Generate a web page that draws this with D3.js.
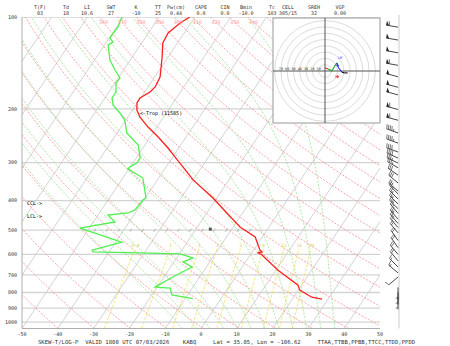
<!DOCTYPE html>
<html>
<head>
<meta charset="utf-8">
<script src="https://cdn.jsdelivr.net/npm/d3@7"></script>
<style>
  body { margin: 0; background: #fff; }
  text { font-family: "DejaVu Sans Mono", monospace; }
</style>
</head>
<body>
<div id="chart"></div>
<script>
// skew-T / log-P sounding, KABQ
const svgW = 450, svgH = 346;
const box = { left: 22, right: 380, top: 17, bottom: 328.5 };
const skew = 0.67; // px sideways per px up

// temperature profile (hPa, C)
const tempPres = [100, 104.6, 112.8, 121.7, 136.3, 157.3, 169.6, 176.2, 184.2, 191.3, 201.8, 212.8, 229.5, 247.5, 268.8, 287.6, 310, 342, 392, 439, 488, 526, 581, 589, 594, 603, 676, 757, 786, 829, 841];
const tempVals = [-61.4, -63.0, -64.5, -64.1, -61.5, -58.5, -58.0, -58.5, -60.2, -60.1, -58.8, -56.6, -52.5, -47.8, -43.0, -39.4, -35.3, -30.0, -21.1, -14.4, -8.1, -2.0, 1.8, 2.7, 1.8, 3.3, 10.6, 19.0, 20.4, 25.1, 28.3];

// dewpoint profile (hPa, C)
const dwptPres = [100, 107.8, 114.6, 117.2, 120.8, 123.5, 138.3, 149.2, 158.5, 164.6, 176.2, 184.2, 194.3, 206.4, 217.7, 240.1, 262.7, 289.8, 301, 310, 314.6, 337.2, 392, 398, 429, 439, 446, 470, 492, 547, 581, 589, 594, 598, 617, 635, 660, 712, 768, 774, 815, 838];
const dwptVals = [-80.4, -79.6, -79.8, -79.8, -78.2, -79.0, -75.7, -72.4, -69.5, -69.7, -68.0, -68.0, -66.4, -63.0, -60.3, -57.3, -51.9, -48.9, -48.9, -50.1, -50.3, -44.4, -39.8, -40.3, -40.6, -42.0, -47.2, -44.0, -52.6, -38.3, -45.1, -44.5, -28.4, -19.8, -15.4, -17.5, -14.0, -17.5, -20.6, -16.2, -14.4, -7.9];

// wind barbs (hPa, direction deg, speed kt)
const windPres = [108, 119, 131, 144, 157, 170, 180, 201, 218, 240, 259, 277, 290, 301, 312, 330, 350, 372, 380, 395, 410, 425, 440, 460, 475, 490, 510, 540, 570, 600, 630, 660, 690, 712, 770, 800, 830];
const windDir = [280, 280, 280, 280, 285, 285, 285, 285, 285, 290, 290, 290, 295, 295, 300, 305, 310, 310, 315, 315, 315, 315, 320, 320, 320, 320, 320, 325, 325, 320, 320, 315, 310, 230, 180, 180, 180];
const windSpd = [60, 50, 50, 60, 50, 50, 50, 60, 60, 45, 45, 40, 40, 35, 35, 30, 30, 25, 25, 25, 25, 25, 25, 25, 20, 20, 20, 20, 20, 20, 20, 15, 15, 10, 5, 5, 5];

// hodograph trace (u, v in kt), coloured by layer
const hodoU = [0, 5, 11, 15, 19, 21, 24, 27, 31, 36];
const hodoV = [5, 3, 0, 7, 13, 6, 2, -2, -3, -3];
const hodoLayer = [0, 0, 1, 1, 1, 2, 2, 2, 3, 3];
const hodoColors = ["#ff2020", "#20a020", "#2020ff", "#111"];

// storm-motion marks (u, v in kt)
const stormU = [20, 20];
const stormV = [9, -9];

// background line sets
const isobars = [100, 200, 300, 400, 500, 600, 700, 800, 900, 1000];
const isotherms = d3.range(-150, 60, 10);
const thetaLines = d3.range(220, 530, 10);
const thetaLabels = [360, 370, 380, 390, 400, 410, 420, 430, 440];
const moistStarts = [-8, -4, 0, 4, 8, 12, 16, 20, 24, 28, 32, 36];
const mixRatios = [0.4, 1, 2, 3, 5, 8, 12, 16, 20];
const tempTicks = [-50, -40, -30, -20, -10, 0, 10, 20, 30, 40, 50];
const tickTemps500 = d3.range(-48, -4, 10 / 3);

const headNames = ["T(F)", "Td", "LI", "SWT", "K", "TT", "Pw(cm)", "CAPE", "CIN", "Bmin", "Tc", "CELL", "SREH", "VGP"];
const headVals = ["83", "18", "10.6", "27", "-10", "25", "0.44", "0.0", "0.0", "-10.0", "103", "305/15", "32", "0.00"];
const headX = [40, 66, 87, 111, 136, 158, 176, 201, 225, 246, 272, 288, 314, 340];

const y = d3.scaleLog().domain([100, 1050]).range([box.top, box.bottom]);
const x = d3.scaleLinear().domain([-50, 50]).range([box.left, box.right]);
const sx = (t, p) => x(t) + skew * (box.bottom - y(p));

const svg = d3.select("#chart").append("svg")
    .attr("width", svgW).attr("height", svgH);

svg.append("defs").append("clipPath").attr("id", "plotClip")
  .append("rect")
    .attr("x", box.left).attr("y", box.top)
    .attr("width", box.right - box.left).attr("height", box.bottom - box.top);

const plot = svg.append("g").attr("clip-path", "url(#plotClip)");
const line = d3.line().x(d => sx(d[1], d[0])).y(d => y(d[0]));

// thermo helpers
const es = t => 6.112 * Math.exp(17.67 * t / (t + 243.5));
const mixT = (w, p) => { const e = w / 1000 * p / (0.622 + w / 1000); const l = Math.log(e / 6.112); return 243.5 * l / (17.67 - l); };
function moistLapse(t, p) {
    const tk = t + 273.15, e = es(t), rs = 0.622 * e / (p - e);
    const Lv = 2.501e6, Rd = 287.04, cp = 1005.7;
    return ((Rd * tk + Lv * rs) / p) / (cp + Lv * Lv * rs * 0.622 / (Rd * tk * tk));
}
function moistPath(t0) {
    const pts = [];
    let t = t0;
    for (let p = 1000; p <= 1050; p += 5) { pts.push([p, t]); t += moistLapse(t, p) * 5; }
    pts.reverse();
    t = t0;
    for (let p = 1000; p >= 100; p -= 5) { if (p < 1000) pts.push([p, t]); t -= moistLapse(t, p) * 5; }
    return pts;
}

// isobars
plot.selectAll(".isobar").data(isobars).enter().append("line")
    .attr("x1", box.left).attr("x2", box.right)
    .attr("y1", d => y(d)).attr("y2", d => y(d))
    .attr("stroke", "#d4d4d4").attr("stroke-width", 1.3);

// isotherms
plot.selectAll(".isotherm").data(isotherms).enter().append("path")
    .attr("d", d => line([[1050, d], [100, d]]))
    .attr("fill", "none").attr("stroke", "#c8c8c8").attr("stroke-width", 0.8);

// dry adiabats
plot.selectAll(".dry").data(thetaLines).enter().append("path")
    .attr("d", th => line(d3.range(1050, 95, -10).map(p => [p, th * Math.pow(p / 1000, 0.2857) - 273.15])))
    .attr("fill", "none").attr("stroke", "#ff8c8c").attr("stroke-width", 0.8)
    .attr("stroke-dasharray", "2,1.5");

// moist adiabats
plot.selectAll(".moist").data(moistStarts).enter().append("path")
    .attr("d", t0 => line(moistPath(t0)))
    .attr("fill", "none").attr("stroke", "#9be08c").attr("stroke-width", 0.8)
    .attr("stroke-dasharray", "2,1.5");

// mixing ratio lines
plot.selectAll(".mix").data(mixRatios).enter().append("path")
    .attr("d", w => line([1050, 900, 800, 700, 600, 575].map(p => [p, mixT(w, p)])))
    .attr("fill", "none").attr("stroke", "#f0e060").attr("stroke-width", 0.8)
    .attr("stroke-dasharray", "3,1.5");

plot.selectAll(".mixlab").data(mixRatios).enter().append("text")
    .attr("x", w => sx(mixT(w, 570), 570)).attr("y", y(570) - 1)
    .attr("text-anchor", "middle").attr("font-size", 4.5).attr("fill", "#e0d040")
    .text(d => d);

// theta labels
svg.selectAll(".thlab").data(thetaLabels).enter().append("text")
    .attr("x", th => sx(th * Math.pow(104 / 1000, 0.2857) - 273.15, 104))
    .attr("y", y(104) + 1.8)
    .attr("text-anchor", "middle").attr("font-size", 5).attr("fill", "#ff9c9c")
    .text(d => d);

// small ticks along 500 hPa
plot.selectAll(".t500").data(tickTemps500).enter().append("line")
    .attr("x1", t => sx(t, 500) - 1).attr("y1", y(500) + 1.5)
    .attr("x2", t => sx(t, 500) + 1).attr("y2", y(500) - 1.5)
    .attr("stroke", "#999").attr("stroke-width", 0.7);

// profiles
plot.append("path")
    .attr("d", line(tempPres.map((p, i) => [p, tempVals[i]])))
    .attr("fill", "none").attr("stroke", "#ff2020").attr("stroke-width", 1.3);
plot.append("path")
    .attr("d", line(dwptPres.map((p, i) => [p, dwptVals[i]])))
    .attr("fill", "none").attr("stroke", "#50f050").attr("stroke-width", 1.3);

// marker near 500 hPa
plot.append("rect").attr("x", sx(-16, 496) - 1.5).attr("y", y(496) - 1.5)
    .attr("width", 3).attr("height", 3).attr("fill", "#555");

// frame
svg.append("line").attr("x1", box.left).attr("x2", box.left).attr("y1", box.top).attr("y2", box.bottom)
    .attr("stroke", "#999").attr("stroke-width", 0.8);
svg.append("line").attr("x1", box.left).attr("x2", box.right).attr("y1", box.bottom).attr("y2", box.bottom)
    .attr("stroke", "#999").attr("stroke-width", 0.8);

// axes labels
svg.selectAll(".plab").data(isobars).enter().append("text")
    .attr("x", box.left - 5).attr("y", d => y(d) + 1.8)
    .attr("text-anchor", "end").attr("font-size", 5).attr("fill", "#333")
    .text(d => d);
svg.selectAll(".tlab").data(tempTicks).enter().append("text")
    .attr("x", d => x(d)).attr("y", box.bottom + 7)
    .attr("text-anchor", "middle").attr("font-size", 5).attr("fill", "#333")
    .text(d => d);

// annotations
svg.append("text").attr("x", 140).attr("y", y(201.8) + 4.5).attr("font-size", 5).text("<-Trop (11585)");
svg.append("text").attr("x", 27).attr("y", 205).attr("font-size", 5).text("CCL->");
svg.append("text").attr("x", 27).attr("y", 218).attr("font-size", 5).text("LCL->");

// header
svg.selectAll(".hn").data(headNames).enter().append("text")
    .attr("x", (d, i) => headX[i]).attr("y", 9).attr("text-anchor", "middle")
    .attr("font-size", 5).attr("fill", "#333").text(d => d);
svg.selectAll(".hv").data(headVals).enter().append("text")
    .attr("x", (d, i) => headX[i]).attr("y", 15).attr("text-anchor", "middle")
    .attr("font-size", 5).attr("fill", "#333").text(d => d);

svg.append("text").attr("x", 38).attr("y", 344).attr("font-size", 5.6).attr("fill", "#333")
    .attr("xml:space", "preserve")
    .text("SKEW-T/LOG-P  VALID 1800 UTC 07/03/2026    KABQ     Lat = 35.05, Lon = -106.62     TTAA,TTBB,PPBB,TTCC,TTDD,PPDD");

// hodograph inset
const hodo = { cx: 325, cy: 71, x0: 273, y0: 18, w: 107, h: 105 };
const hr = d3.scaleLinear().domain([0, 10]).range([0, 6.3]);
const hg = svg.append("g");
hg.append("rect").attr("x", hodo.x0).attr("y", hodo.y0).attr("width", hodo.w).attr("height", hodo.h)
    .attr("fill", "#fff").attr("stroke", "#aaa").attr("stroke-width", 1.2);
hg.selectAll(".ring").data(d3.range(10, 90, 10)).enter().append("circle")
    .attr("cx", hodo.cx).attr("cy", hodo.cy).attr("r", d => hr(d))
    .attr("fill", "none").attr("stroke", "#ccc").attr("stroke-width", 0.7);
hg.append("line").attr("x1", hodo.x0).attr("x2", hodo.x0 + hodo.w).attr("y1", hodo.cy).attr("y2", hodo.cy).attr("stroke", "#555");
hg.append("line").attr("y1", hodo.y0).attr("y2", hodo.y0 + hodo.h).attr("x1", hodo.cx).attr("x2", hodo.cx).attr("stroke", "#555");
hg.selectAll(".rl").data(d3.range(10, 80, 10)).enter().append("text")
    .attr("x", d => hodo.cx - hr(d)).attr("y", hodo.cy - 1.5).attr("text-anchor", "middle")
    .attr("font-size", 3.5).attr("fill", "#333").text(d => d);
for (let i = 1; i < hodoU.length; i++) {
    hg.append("line")
        .attr("x1", hodo.cx + hr(hodoU[i - 1])).attr("y1", hodo.cy - hr(hodoV[i - 1]))
        .attr("x2", hodo.cx + hr(hodoU[i])).attr("y2", hodo.cy - hr(hodoV[i]))
        .attr("stroke", hodoColors[hodoLayer[i]]).attr("stroke-width", 1.1);
}
hg.selectAll(".sm").data(stormU).enter().append("path")
    .attr("d", (u, i) => { const px = hodo.cx + hr(u), py = hodo.cy - hr(stormV[i]); return `M${px - 1.5},${py}h3M${px},${py - 1.5}v3`; })
    .attr("stroke", (d, i) => i === 0 ? "#33f" : "#f33").attr("stroke-width", 0.8);
hg.append("text").attr("x", 338).attr("y", 59).attr("font-size", 3.5).attr("fill", "#33f").text("LM");
hg.append("text").attr("x", 335).attr("y", 78).attr("font-size", 3.5).attr("fill", "#f33").text("RM");

// wind barbs
const barbX = 398;
svg.append("line").attr("x1", barbX + 1).attr("x2", barbX + 1).attr("y1", box.top - 2).attr("y2", box.bottom)
    .attr("stroke", "#ccc").attr("stroke-width", 1);
function drawBarb(g, bx, by, dir, spd) {
    const a = dir * Math.PI / 180, L = 12;
    const ux = Math.sin(a), uy = -Math.cos(a);
    const fx = -uy, fy = ux; // feather side
    const tipX = bx + ux * L, tipY = by + uy * L;
    g.append("line").attr("x1", bx).attr("y1", by).attr("x2", tipX).attr("y2", tipY)
        .attr("stroke", "#333").attr("stroke-width", 0.9);
    let s = Math.round(spd / 5) * 5, pos = 0;
    while (s >= 50) {
        const px = tipX - ux * pos, py = tipY - uy * pos;
        g.append("path").attr("d", `M${px},${py}L${px + fx * 4.5},${py + fy * 4.5}L${px - ux * 3},${py - uy * 3}Z`).attr("fill", "#222");
        pos += 3.5; s -= 50;
    }
    while (s >= 10) {
        const px = tipX - ux * pos, py = tipY - uy * pos;
        g.append("line").attr("x1", px).attr("y1", py).attr("x2", px + fx * 4.5 + ux * 1.2).attr("y2", py + fy * 4.5 + uy * 1.2)
            .attr("stroke", "#555").attr("stroke-width", 0.8);
        pos += 1.8; s -= 10;
    }
    if (s >= 5) {
        if (pos === 0) pos = 1.8;
        const px = tipX - ux * pos, py = tipY - uy * pos;
        g.append("line").attr("x1", px).attr("y1", py).attr("x2", px + fx * 2.3 + ux * 0.6).attr("y2", py + fy * 2.3 + uy * 0.6)
            .attr("stroke", "#555").attr("stroke-width", 0.8);
    }
}
const bg = svg.append("g");
windPres.forEach((p, i) => drawBarb(bg, barbX, y(p), windDir[i], windSpd[i]));
</script>
</body>
</html>
